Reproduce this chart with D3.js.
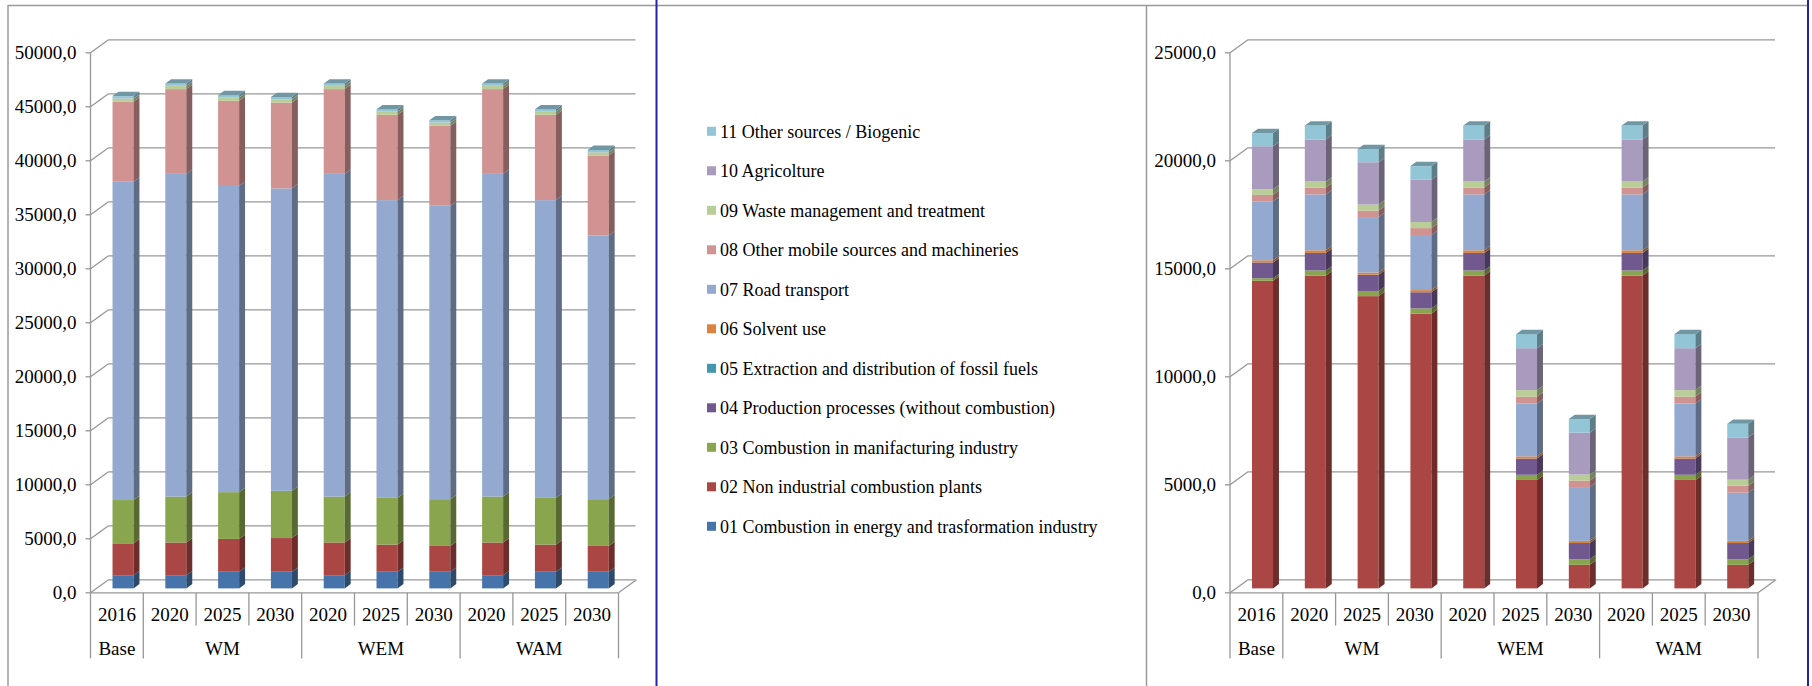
<!DOCTYPE html>
<html>
<head>
<meta charset="utf-8">
<script src="https://cdn.jsdelivr.net/npm/d3@7"></script>
<style>
body { margin: 0; background: #fff; }
text { font-family: 'Liberation Serif', 'Times New Roman', serif; fill: #000; }
</style>
</head>
<body>
<svg id="chart" width="1812" height="686"></svg>
<script>
var years = ['2016', '2020', '2025', '2030', '2020', '2025', '2030', '2020', '2025', '2030'];
var scenarios = ['Base', 'WM', 'WEM', 'WAM'];
var scenarioSize = [1, 3, 3, 3];

var sectors = ['01 Combustion in energy and trasformation industry', '02 Non industrial combustion plants',
	'03 Combustion in manifacturing industry', '04 Production processes (without combustion)',
	'05 Extraction and distribution of fossil fuels', '06 Solvent use', '07 Road transport',
	'08 Other mobile sources and machineries', '09 Waste management and treatment',
	'10 Agricolture', '11 Other sources / Biogenic'];
var sectorColors = ['#4674AA', '#AA4643', '#89A54E', '#71588F', '#4198AF', '#DB843D',
	'#93A9CF', '#D19392', '#B9CD96', '#A99BBD', '#92C5D5'];

var leftTicks = [0, 5000, 10000, 15000, 20000, 25000, 30000, 35000, 40000, 45000, 50000];
var rightTicks = [0, 5000, 10000, 15000, 20000, 25000];

// left chart
var left01 = [1220, 1220, 1540, 1540, 1220, 1540, 1540, 1220, 1540, 1540];
var left02 = [2950, 3030, 3040, 3120, 3030, 2510, 2390, 3030, 2510, 2390];
var left03 = [4010, 4250, 4330, 4370, 4250, 4330, 4330, 4250, 4330, 4330];
var left04 = [0, 0, 0, 0, 0, 0, 0, 0, 0, 0];
var left05 = [0, 0, 0, 0, 0, 0, 0, 0, 0, 0];
var left06 = [0, 0, 0, 0, 0, 0, 0, 0, 0, 0];
var left07 = [29470, 29880, 28350, 28010, 29880, 27570, 27170, 29880, 27570, 24410];
var left08 = [7410, 7850, 7890, 7940, 7850, 7900, 7400, 7850, 7900, 7410];
var left09 = [280, 280, 280, 280, 280, 280, 280, 280, 280, 280];
var left10 = [30, 30, 30, 30, 30, 30, 30, 30, 30, 30];
var left11 = [210, 210, 210, 210, 210, 210, 210, 210, 210, 210];

// right chart
var right01 = [0, 0, 0, 0, 0, 0, 0, 0, 0, 0];
var right02 = [14240, 14480, 13530, 12720, 14480, 5020, 1090, 14480, 5020, 1090];
var right03 = [120, 240, 240, 240, 240, 240, 260, 240, 240, 260];
var right04 = [730, 810, 750, 750, 810, 750, 750, 810, 750, 750];
var right05 = [0, 0, 0, 0, 0, 0, 0, 0, 0, 0];
var right06 = [100, 120, 100, 100, 120, 100, 100, 120, 100, 100];
var right07 = [2730, 2590, 2570, 2550, 2590, 2450, 2490, 2590, 2450, 2230];
var right08 = [300, 320, 300, 320, 320, 320, 300, 320, 320, 320];
var right09 = [260, 280, 280, 280, 280, 300, 280, 280, 300, 280];
var right10 = [1990, 1940, 1960, 1960, 1940, 1940, 1940, 1940, 1940, 1960];
var right11 = [610, 650, 610, 630, 650, 650, 630, 650, 650, 630];

var leftData = [left01, left02, left03, left04, left05, left06, left07, left08, left09, left10, left11];
var rightData = [right01, right02, right03, right04, right05, right06, right07, right08, right09, right10, right11];

var svg = d3.select('#chart');
var gridColor = '#979797';
var depthX = 18, depthY = -13;   // full depth of the 3d box
var f1 = 0.34, f2 = 0.67;         // bar front / back inside the depth

function fmt(v){ return d3.format('.1f')(v).replace('.', ','); }

function drawChart(x0, ticks, series){
	var g = svg.append('g');
	var n = years.length;
	var plotW = 528;
	var yFloor = 592.8, yTop = 52.8;

	var x = d3.scaleBand().domain(d3.range(n)).range([x0, x0 + plotW]);
	var y = d3.scaleLinear().domain([0, d3.max(ticks)]).range([yFloor, yTop]);

	// walls and gridlines
	ticks.forEach(function(t){
		g.append('line').attr('x1', x0 + depthX).attr('x2', x0 + plotW + depthX - 1)
			.attr('y1', y(t) + depthY).attr('y2', y(t) + depthY)
			.attr('stroke', gridColor).attr('stroke-width', 1.3);
		g.append('line').attr('x1', x0).attr('x2', x0 + depthX)
			.attr('y1', y(t)).attr('y2', y(t) + depthY)
			.attr('stroke', gridColor).attr('stroke-width', 1.3);
		g.append('line').attr('x1', x0 - 5).attr('x2', x0)
			.attr('y1', y(t)).attr('y2', y(t))
			.attr('stroke', gridColor).attr('stroke-width', 1.3);
		g.append('text').attr('x', x0 - 14).attr('y', y(t)).attr('dy', '0.35em')
			.attr('text-anchor', 'end').style('font-size', '19px').text(fmt(t));
	});
	g.append('line').attr('x1', x0).attr('x2', x0).attr('y1', y(0)).attr('y2', y(d3.max(ticks)))
		.attr('stroke', gridColor).attr('stroke-width', 1.3);
	// floor front + right edge
	g.append('line').attr('x1', x0).attr('x2', x0 + plotW).attr('y1', yFloor).attr('y2', yFloor)
		.attr('stroke', gridColor).attr('stroke-width', 1.3);
	g.append('line').attr('x1', x0 + plotW).attr('x2', x0 + plotW + depthX).attr('y1', yFloor).attr('y2', yFloor + depthY)
		.attr('stroke', gridColor).attr('stroke-width', 1.3);

	// stacked bars
	var rows = d3.range(n).map(function(i){
		var r = {};
		series.forEach(function(s, k){ r['s' + k] = s[i]; });
		return r;
	});
	var keys = series.map(function(s, k){ return 's' + k; });
	var stacked = d3.stack().keys(keys)(rows);

	var bw = 21;
	var ox = (x.step() - bw) / 2 + f1 * depthX, oy = f1 * depthY;
	var sx = (f2 - f1) * depthX, sy = (f2 - f1) * depthY;

	d3.range(n).forEach(function(i){
		var bx = x(i) + ox;
		var topY = null, topCol = null;
		stacked.forEach(function(layer, k){
			var v0 = layer[i][0], v1 = layer[i][1];
			if(v1 - v0 <= 0) return;
			var ya = y(v0) + oy, yb = y(v1) + oy;
			var col = d3.color(sectorColors[k]);
			g.append('rect').attr('x', bx).attr('y', yb).attr('width', bw).attr('height', ya - yb)
				.attr('fill', col);
			g.append('path')
				.attr('d', 'M' + (bx + bw) + ',' + ya + 'L' + (bx + bw) + ',' + yb +
					'L' + (bx + bw + sx) + ',' + (yb + sy) + 'L' + (bx + bw + sx) + ',' + (ya + sy) + 'Z')
				.attr('fill', col.darker(1.25));
			topY = yb; topCol = col;
		});
		if(topY != null){
			g.append('path')
				.attr('d', 'M' + bx + ',' + topY + 'L' + (bx + bw) + ',' + topY +
					'L' + (bx + bw + sx) + ',' + (topY + sy) + 'L' + (bx + sx) + ',' + (topY + sy) + 'Z')
				.attr('fill', topCol.darker(0.75));
		}
	});

	// category axis: years row and scenario row
	var row1 = 614.7, row2 = 648.8;
	g.selectAll('.yr').data(years).enter().append('text')
		.attr('x', function(d, i){ return x(i) + x.step() / 2; })
		.attr('y', row1).attr('dy', '0.35em').attr('text-anchor', 'middle')
		.style('font-size', '19px').text(function(d){ return d; });

	var start = 0;
	var bounds = [0];
	scenarios.forEach(function(s, j){
		var a = start, b = start + scenarioSize[j];
		g.append('text').attr('x', (x(a) + x0 + b * x.step()) / 2).attr('y', row2).attr('dy', '0.35em')
			.attr('text-anchor', 'middle').style('font-size', '19px').text(s);
		start = b;
		bounds.push(b);
	});
	d3.range(n + 1).forEach(function(i){
		var long = bounds.indexOf(i) >= 0;
		var xx = x0 + i * x.step();
		g.append('line').attr('x1', xx).attr('x2', xx).attr('y1', yFloor).attr('y2', long ? 658.4 : 625.6)
			.attr('stroke', gridColor).attr('stroke-width', 1.3);
	});
}

// frames
svg.append('line').attr('x1', 8).attr('x2', 1808).attr('y1', 5.5).attr('y2', 5.5).attr('stroke', '#9a9a9a').attr('stroke-width', 1.5);
svg.append('line').attr('x1', 8).attr('x2', 8).attr('y1', 5).attr('y2', 686).attr('stroke', '#9a9a9a').attr('stroke-width', 1.5);
svg.append('line').attr('x1', 1146.5).attr('x2', 1146.5).attr('y1', 5).attr('y2', 686).attr('stroke', '#9a9a9a').attr('stroke-width', 1.5);
svg.append('line').attr('x1', 656.5).attr('x2', 656.5).attr('y1', 0).attr('y2', 686).attr('stroke', '#2323a8').attr('stroke-width', 2);
svg.append('line').attr('x1', 1808).attr('x2', 1808).attr('y1', 0).attr('y2', 686).attr('stroke', '#2323a8').attr('stroke-width', 2);

drawChart(90.5, leftTicks, leftData);
drawChart(1230, rightTicks, rightData);

// legend, reversed order as in the picture
var legend = svg.append('g');
var legendItems = d3.range(sectors.length).reverse();
legend.selectAll('g.item').data(legendItems).enter().append('g')
	.attr('transform', function(d, i){ return 'translate(707,' + (131.3 + i * 39.5) + ')'; })
	.each(function(d){
		var it = d3.select(this);
		it.append('rect').attr('x', 0).attr('y', -4.5).attr('width', 9).attr('height', 9).attr('fill', sectorColors[d]);
		it.append('text').attr('x', 13).attr('y', 0).attr('dy', '0.35em').style('font-size', '18px').text(sectors[d]);
	});
</script>
</body>
</html>
